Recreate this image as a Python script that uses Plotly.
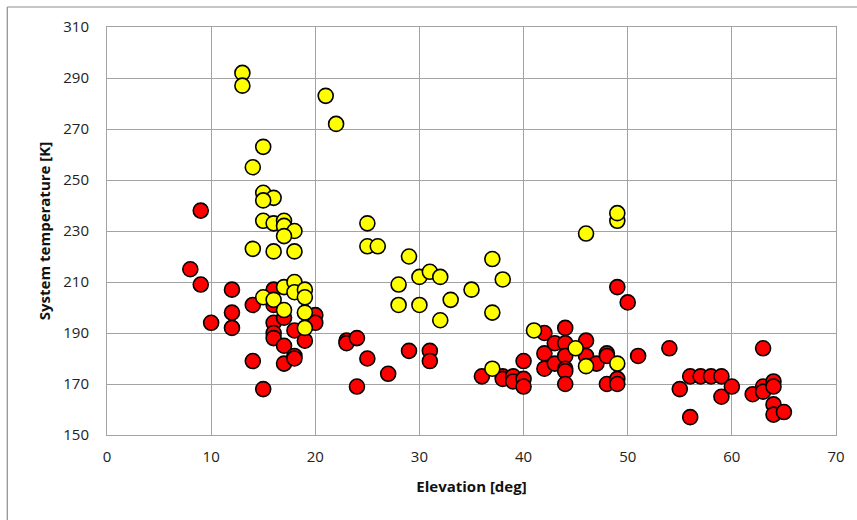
import plotly.graph_objects as go

# Red series (elevation [deg], system temperature [K])
red_elev = [8, 9, 9, 10, 12, 12, 12, 14, 14, 15,
            16, 16, 16, 16, 16, 17, 17, 17, 18, 18, 18, 19, 20, 20,
            23, 23, 24, 25, 27, 24, 29, 31, 31,
            36, 38, 38, 39, 39, 40, 40, 40,
            42, 42, 42, 43, 43, 44, 44, 44, 44, 44, 44, 46, 46, 47, 48, 48, 48, 49, 49, 49, 50, 51,
            54, 55, 56, 56, 57, 58, 59, 59, 60, 62, 63, 63, 63, 64, 64, 64, 64, 65]
red_temp = [215, 238, 209, 194, 207, 198, 192, 201, 179, 168,
            207, 201, 194, 190, 188, 196, 185, 178, 191, 181, 180, 187, 197, 194,
            187, 186, 188, 180, 174, 169, 183, 183, 179,
            173, 173, 172, 173, 171, 179, 172, 169,
            190, 182, 176, 186, 178, 192, 186, 181, 176, 175, 170, 187, 181, 178, 182, 181, 170, 208, 172, 170, 202, 181,
            184, 168, 173, 157, 173, 173, 173, 165, 169, 166, 184, 169, 167, 171, 169, 162, 158, 159]

# Yellow series
yel_elev = [13, 13, 21, 22, 15, 14, 15, 16, 15, 15, 16, 17, 17, 18, 17, 14, 16, 18,
            25, 25, 26, 29, 37, 46, 49, 49,
            15, 16, 17, 18, 18, 19, 19, 17, 19, 19,
            28, 30, 31, 32, 28, 30, 33, 32, 35, 37, 38,
            41, 45, 37, 46, 49]
yel_temp = [292, 287, 283, 272, 263, 255, 245, 243, 242, 234, 233, 234, 232, 230, 228, 223, 222, 222,
            233, 224, 224, 220, 219, 229, 234, 237,
            204, 203, 208, 210, 206, 207, 204, 199, 198, 192,
            209, 212, 214, 212, 201, 201, 203, 195, 207, 198, 211,
            191, 184, 176, 177, 178]

x_ticks = [0, 10, 20, 30, 40, 50, 60, 70]
y_ticks = [150, 170, 190, 210, 230, 250, 270, 290, 310]

grid = "#A3A3A3"
marker_line = dict(color="#000000", width=1.6)

fig = go.Figure()
fig.add_trace(go.Scatter(x=red_elev, y=red_temp, mode="markers",
                         marker=dict(size=15, color="#FF0000", line=marker_line),
                         showlegend=False))
fig.add_trace(go.Scatter(x=yel_elev, y=yel_temp, mode="markers",
                         marker=dict(size=15, color="#FFFF00", line=marker_line),
                         showlegend=False))

W, H = 857, 520
L, R, T, B = 107, 19, 27, 85
pw, ph = W - L - R, H - T - B

def px(xp):
    return (xp - L) / pw

def py(yp):
    return (H - B - yp) / ph

# outer frame (left and top edges visible in the reference)
fig.add_shape(type="line", xref="paper", yref="paper",
              x0=px(7), x1=px(7), y0=py(7), y1=py(H + 5),
              line=dict(color="#8C8C8C", width=1.2))
fig.add_shape(type="line", xref="paper", yref="paper",
              x0=px(7), x1=px(W + 5), y0=py(7), y1=py(7),
              line=dict(color="#8C8C8C", width=1.2))

font_family = "Open Sans, Liberation Sans, sans-serif"

fig.update_layout(
    width=W, height=H,
    margin=dict(l=L, r=R, t=T, b=B),
    paper_bgcolor="white", plot_bgcolor="white",
    font=dict(family=font_family, size=15, color="#222222"),
    xaxis=dict(range=[0, 70], tickvals=x_ticks, ticktext=[str(v) for v in x_ticks],
               showgrid=True, gridcolor=grid, gridwidth=1,
               showline=True, linecolor=grid, linewidth=1, mirror=True,
               zeroline=False, ticks="", ticklabelstandoff=8,
               title=dict(text="<b>Elevation [deg]</b>", font=dict(size=15, color="#111111"),
                          standoff=16)),
    yaxis=dict(range=[150, 310], tickvals=y_ticks, ticktext=[str(v) for v in y_ticks],
               showgrid=True, gridcolor=grid, gridwidth=1,
               showline=True, linecolor=grid, linewidth=1, mirror=True,
               zeroline=False, ticks="", ticklabelstandoff=14,
               title=dict(text="<b>System temperature [K]</b>", font=dict(size=15, color="#111111"),
                          standoff=9)),
)

fig.write_html("out.html")
